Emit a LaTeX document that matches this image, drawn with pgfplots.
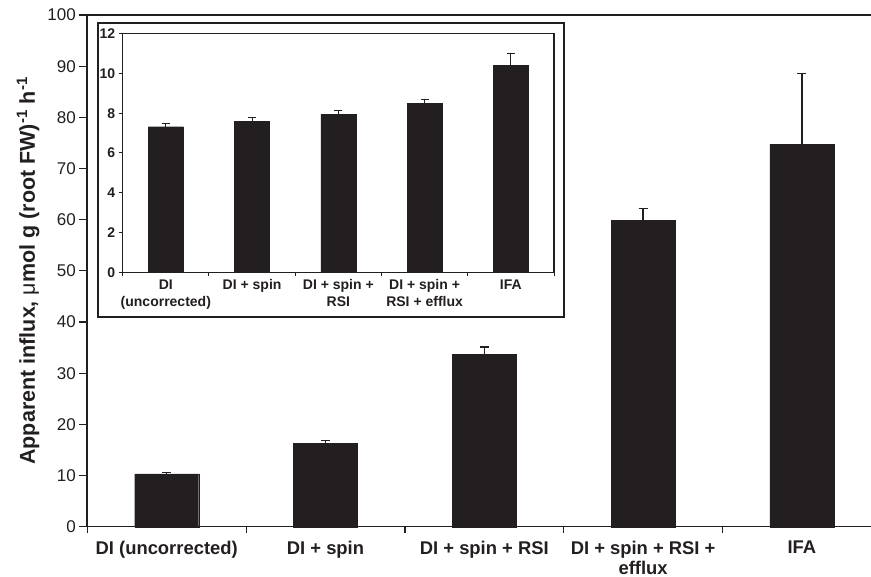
\documentclass[border=0pt]{standalone}
\usepackage{fontspec}
\setmainfont{Liberation Sans}
\usepackage{pgfplots}
\pgfplotsset{compat=1.18}
\usetikzlibrary{calc}
\definecolor{ink}{RGB}{35,31,32}
\begin{document}
\begin{tikzpicture}
\begin{axis}[
  name=main,
  at={(0pt,0pt)}, anchor=south west,
  scale only axis, width=783.7pt, height=511.7pt,
  xmin=0.5, xmax=5.435, ymin=0, ymax=100,
  ybar, bar width=64pt,
  axis x line*=bottom, axis y line*=left,
  axis line style={line width=1.6pt, color=ink, -},
  ytick={0,10,...,100},
  xtick={1,2,3,4,5},
  xticklabels={DI (uncorrected), DI + spin, DI + spin + RSI, {DI + spin + RSI +\\efflux}, IFA},
  minor xtick={0.5,1.5,2.5,3.5,4.5},
  tick align=outside,
  major x tick style={draw=none},
  major tick length=8pt, minor tick length=6pt,
  tick style={line width=1.2pt, color=ink},
  /pgf/number format/assume math mode=true,
  yticklabel style={font=\fontsize{17}{20}\selectfont, color=ink},
  xticklabel style={font=\bfseries\fontsize{18.4}{20}\selectfont, align=center, color=ink, yshift=-2.5pt},
  ylabel={Apparent influx, {\mdseries μ}mol g (root FW)\textsuperscript{-1} h\textsuperscript{-1}},
  ylabel style={font=\bfseries\fontsize{21.5}{24}\selectfont, at={(axis description cs:-0.0901,0.5)}, anchor=north, inner sep=0pt, color=ink},
  clip=false,
]
\addplot[fill=ink, draw=ink, line width=0.3pt,
  error bars/.cd, y dir=plus, y explicit,
  error bar style={line width=1.3pt, color=ink},
  error mark options={rotate=90, mark size=4.5pt, line width=1.3pt, color=ink}]
  coordinates {(1,10.3) +- (0,0.3) (2,16.3) +- (0,0.6) (3,33.7) +- (0,1.4) (4,59.9) +- (0,2.3) (5,74.7) +- (0,13.8)};
\draw[line width=1.6pt, ink] (rel axis cs:0,1) -- (rel axis cs:1,1);
\end{axis}
\draw[line width=1.8pt, ink, fill=white] ($(main.south west)+(10.7pt,210pt)$) rectangle ++(466pt,294pt);
\begin{axis}[
  at={($(main.south west)+(35.4pt,254.4pt)$)}, anchor=south west,
  scale only axis, width=431.3pt, height=238.6pt,
  xmin=0.5, xmax=5.5, ymin=0, ymax=12,
  ybar, bar width=35pt,
  axis line style={line width=1.2pt, color=ink},
  ytick={0,2,...,12},
  xtick={1,2,3,4,5},
  xticklabels={{DI\\(uncorrected)}, DI + spin, {DI + spin +\\RSI}, {DI + spin +\\RSI + efflux}, IFA},
  minor xtick={0.5,1.5,2.5,3.5,4.5,5.5},
  tick pos=left,
  tick align=outside,
  major x tick style={draw=none},
  major tick length=4pt, minor tick length=4pt,
  tick style={line width=1pt, color=ink},
  /pgf/number format/assume math mode=true,
  yticklabel style={font=\bfseries\fontsize{14}{16.7}\selectfont, color=ink},
  xticklabel style={font=\bfseries\fontsize{14}{16.7}\selectfont, align=center, color=ink},
  clip=false,
]
\addplot[fill=ink, draw=ink, line width=0.3pt,
  error bars/.cd, y dir=plus, y explicit,
  error bar style={line width=1.1pt, color=ink},
  error mark options={rotate=90, mark size=4pt, line width=1.1pt, color=ink}]
  coordinates {(1,7.32) +- (0,0.15) (2,7.59) +- (0,0.19) (3,7.94) +- (0,0.2) (4,8.50) +- (0,0.21) (5,10.41) +- (0,0.58)};
\end{axis}
\pgfresetboundingbox
\path[use as bounding box] ($(main.south west)+(-87.3pt,-50.3pt)$) rectangle ++(871pt,577pt);
\end{tikzpicture}
\end{document}
